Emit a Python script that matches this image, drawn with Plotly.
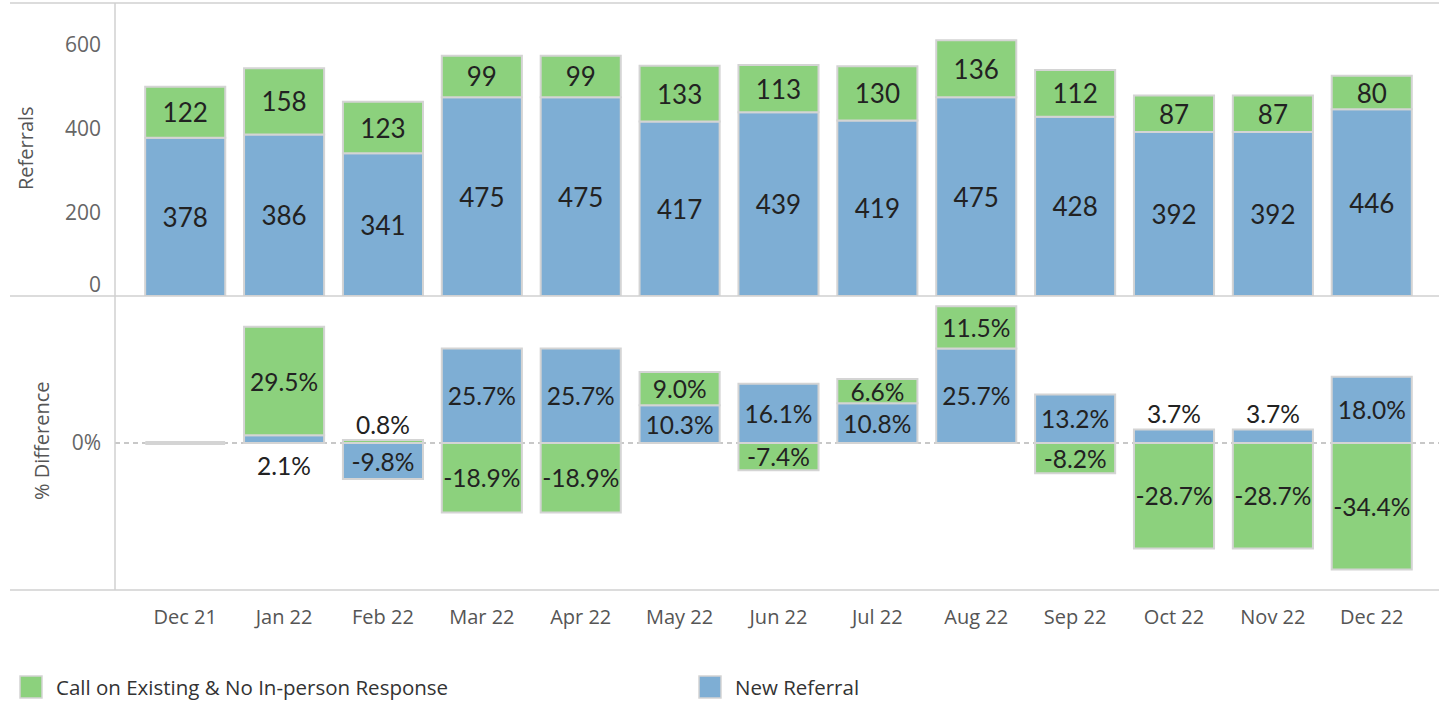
import plotly.graph_objects as go

# Monthly referral counts
months = ["Dec 21", "Jan 22", "Feb 22", "Mar 22", "Apr 22", "May 22", "Jun 22",
          "Jul 22", "Aug 22", "Sep 22", "Oct 22", "Nov 22", "Dec 22"]
new_referral = [378, 386, 341, 475, 475, 417, 439, 419, 475, 428, 392, 392, 446]
call_existing = [122, 158, 123, 99, 99, 133, 113, 130, 136, 112, 87, 87, 80]

# % difference against Dec 21
new_pct = [0.0, 2.1, -9.8, 25.7, 25.7, 10.3, 16.1, 10.8, 25.7, 13.2, 3.7, 3.7, 18.0]
call_pct = [0.0, 29.5, 0.8, -18.9, -18.9, 9.0, -7.4, 6.6, 11.5, -8.2, -28.7, -28.7, -34.4]

# Referral axis ticks
count_ticks = [0, 200, 400, 600]

GREEN = "#8CD17D"
BLUE = "#7EAED4"
EDGE = "#D4D4D4"
AXLINE = "#D0D0D0"
LABEL_FONT = "Lato"
UI_FONT = "Open Sans"

W, H = 1439, 710
ML, MR, MT, MB = 115, 0, 3, 120
PW, PH = W - ML - MR, H - MT - MB
split = (590 - 296) / PH  # paper y of the divider between the panels


def px_x(px):
    return (px - ML) / PW


def px_y(py):
    return (H - MB - py) / PH


fig = go.Figure()

bar_common = dict(
    width=0.81,
    marker_line=dict(color=EDGE, width=2),
    textposition="inside",
    insidetextanchor="middle",
    textangle=0,
    constraintext="none",
    cliponaxis=False,
    showlegend=False,
    hoverinfo="skip",
)

# Top panel: stacked counts
fig.add_trace(go.Bar(x=months, y=new_referral, marker_color=BLUE,
                     text=[str(v) for v in new_referral],
                     textfont=dict(family=LABEL_FONT, size=26, color="#222"),
                     xaxis="x", yaxis="y", **bar_common))
fig.add_trace(go.Bar(x=months, y=call_existing, marker_color=GREEN,
                     text=[str(v) for v in call_existing],
                     textfont=dict(family=LABEL_FONT, size=26, color="#222"),
                     xaxis="x", yaxis="y", **bar_common))

# Invisible anchor so the overlaid zero-label axis gets rendered
fig.add_trace(go.Scatter(x=months[:1], y=count_ticks[:1], mode="markers",
                         marker=dict(opacity=0), xaxis="x", yaxis="y3",
                         showlegend=False, hoverinfo="skip"))

# Bottom panel: % difference, relative stacking
SMALL = 5.0
PCT_SIZE = 24.5


def pct_text(vals):
    out = []
    for v in vals:
        if v == 0 or abs(v) < SMALL:
            out.append("")
        else:
            out.append(f"{v:.1f}%")
    return out


fig.add_trace(go.Bar(x=months, y=new_pct, marker_color=BLUE,
                     text=pct_text(new_pct),
                     textfont=dict(family=LABEL_FONT, size=PCT_SIZE, color="#222"),
                     xaxis="x2", yaxis="y2", **bar_common))
fig.add_trace(go.Bar(x=months, y=call_pct, marker_color=GREEN,
                     text=pct_text(call_pct),
                     textfont=dict(family=LABEL_FONT, size=PCT_SIZE, color="#222"),
                     xaxis="x2", yaxis="y2", **bar_common))

# Baseline month: both differences are zero, drawn as a flat outline
base_x = [m for m, a, b in zip(months, new_pct, call_pct) if a == 0 and b == 0]
base_y = [0 for _ in base_x]
fig.add_trace(go.Scatter(x=base_x, y=base_y, mode="markers", xaxis="x2", yaxis="y2",
                         marker=dict(symbol="line-ew", size=57,
                                     line=dict(color=EDGE, width=4)),
                         showlegend=False, hoverinfo="skip", cliponaxis=False))

# Labels for short bars go outside the stack
annotations = []
for i, m in enumerate(months):
    nb, cl = new_pct[i], call_pct[i]
    for series, v in (("new", nb), ("call", cl)):
        if v == 0 or abs(v) >= SMALL:
            continue
        txt = f"{v:.1f}%"
        if series == "new" and v > 0 and cl > 0:
            # something stacked above: label below the baseline
            annotations.append(dict(x=m, y=0, xref="x2", yref="y2", text=txt,
                                    showarrow=False, yanchor="top", yshift=-6,
                                    font=dict(family=LABEL_FONT, size=PCT_SIZE, color="#222")))
        else:
            top = v if v > 0 else 0
            if series == "call" and v > 0 and nb > 0:
                top = nb + v
            annotations.append(dict(x=m, y=top, xref="x2", yref="y2", text=txt,
                                    showarrow=False, yanchor="bottom", yshift=-1,
                                    font=dict(family=LABEL_FONT, size=PCT_SIZE, color="#222")))

# Axis titles
annotations.append(dict(x=px_x(26), y=px_y(148), xref="paper", yref="paper",
                        xanchor="center", yanchor="middle",
                        text="Referrals", textangle=-90, showarrow=False,
                        font=dict(family=UI_FONT, size=20, color="#555")))
annotations.append(dict(x=px_x(41), y=px_y(441), xref="paper", yref="paper",
                        xanchor="center", yanchor="middle",
                        text="% Difference", textangle=-90, showarrow=False,
                        font=dict(family=UI_FONT, size=20, color="#555")))

# Legend
legend_items = [("Call on Existing & No In-person Response", GREEN, 20),
                ("New Referral", BLUE, 699)]
shapes = []
for name, color, x0 in legend_items:
    shapes.append(dict(type="rect", xref="paper", yref="paper",
                       x0=px_x(x0), x1=px_x(x0 + 22), y0=px_y(698), y1=px_y(676),
                       fillcolor=color, line=dict(color=EDGE, width=1.5)))
    annotations.append(dict(x=px_x(x0 + 34), y=px_y(687), xref="paper", yref="paper",
                            text=name, showarrow=False, xanchor="left", yanchor="middle",
                            font=dict(family=UI_FONT, size=20.5, color="#333")))

# Frame lines
for py in (3, 296, 590):
    shapes.append(dict(type="line", xref="paper", yref="paper",
                       x0=px_x(10), x1=1, y0=px_y(py), y1=px_y(py),
                       line=dict(color=AXLINE, width=1.5), layer="above"))
shapes.append(dict(type="line", xref="paper", yref="paper",
                   x0=0, x1=0, y0=px_y(590), y1=1,
                   line=dict(color=AXLINE, width=1.5), layer="above"))

xr = [-0.71, 12.68]
yr_count = [0, 700]
tick_font = dict(family=UI_FONT, size=21, color="#666")
fig.update_layout(
    width=W, height=H,
    margin=dict(l=ML, r=MR, t=MT, b=MB),
    paper_bgcolor="white", plot_bgcolor="white",
    barmode="relative", bargap=0.19,
    showlegend=False,
    xaxis=dict(domain=[0, 1], anchor="y", range=xr, showticklabels=False,
               showgrid=False, zeroline=False, showline=False, ticks=""),
    yaxis=dict(domain=[split, 1], anchor="x", range=yr_count,
               tickvals=count_ticks[1:], showgrid=False, zeroline=False,
               showline=False, ticks="", ticklabelstandoff=13, tickfont=tick_font),
    # zero label sits just above the panel floor
    yaxis3=dict(overlaying="y", anchor="x", side="left", range=yr_count,
                tickvals=count_ticks[:1], showgrid=False, zeroline=False,
                showline=False, ticks="", ticklabelstandoff=13, ticklabelshift=-11,
                tickfont=tick_font),
    xaxis2=dict(domain=[0, 1], anchor="y2", range=xr, showgrid=False,
                zeroline=False, showline=False, ticks="", ticklabelstandoff=13,
                tickfont=dict(family=UI_FONT, size=20, color="#555")),
    yaxis2=dict(domain=[0, split], anchor="x2", range=[-40, 40],
                tickvals=[0], ticktext=["0%"], showgrid=True, gridcolor="#C8C8C8",
                gridwidth=1.5, griddash="5px,4px", zeroline=False, showline=False,
                ticks="", ticklabelstandoff=13, tickfont=tick_font),
    annotations=annotations,
    shapes=shapes,
)

fig.write_html("out.html")
